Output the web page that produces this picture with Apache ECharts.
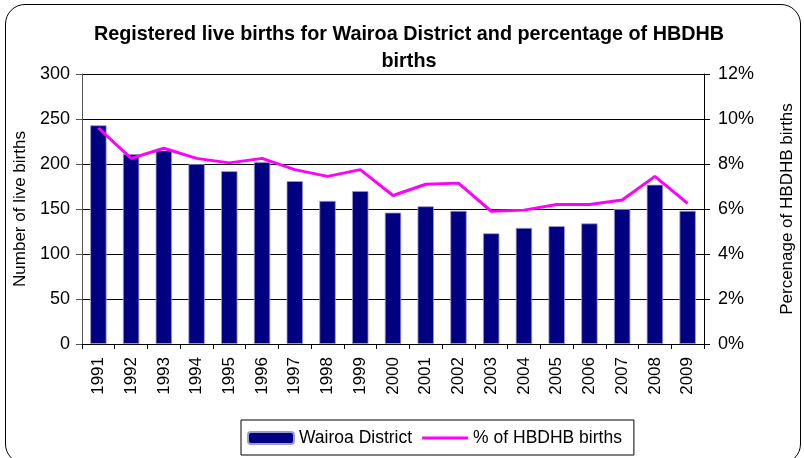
<!DOCTYPE html>
<html><head><meta charset="utf-8">
<script src="https://cdn.jsdelivr.net/npm/echarts@6/dist/echarts.min.js"></script>
<style>
html,body{margin:0;padding:0;background:#fff;overflow:hidden;}
#frame{position:absolute;left:5px;top:4px;width:796px;height:460px;border:1.5px solid #000;border-radius:20px;box-sizing:border-box;}
#c{position:absolute;left:0;top:0;width:804px;height:458px;}
</style></head>
<body>
<div id="frame"></div>
<div id="c"></div>
<script>
var years = ['1991','1992','1993','1994','1995','1996','1997','1998','1999','2000','2001','2002','2003','2004','2005','2006','2007','2008','2009'];
var births = [243,211,215,200,192,202,181,159,170,146,153,148,123,129,131,134,150,177,148];
var pctHBDHB = [9.6,8.25,8.7,8.25,8.05,8.25,7.75,7.45,7.75,6.6,7.1,7.15,5.9,5.95,6.2,6.2,6.4,7.45,6.25];
var leftTicks = [0,50,100,150,200,250,300];
var rightTicks = [0,2,4,6,8,10,12];

var FONT = 'Liberation Sans, Arial, sans-serif';
var chart = echarts.init(document.getElementById('c'));
chart.setOption({
  animation:false,
  title:{text:'Registered live births for Wairoa District and percentage of HBDHB\nbirths',left:404,textAlign:'center',top:16,
    textStyle:{fontFamily:FONT,fontSize:19.8,fontWeight:'bold',color:'#000',lineHeight:27}},
  grid:{left:82,right:90,top:74,bottom:114},
  legend:{left:241,top:420,itemWidth:46,itemHeight:12,itemGap:10,
    borderColor:'#000',borderWidth:1,padding:[9,12,8,6],borderRadius:0,
    textStyle:{fontFamily:FONT,fontSize:17.5,color:'#000'},
    data:[{name:'Wairoa District'},
          {name:'% of HBDHB births',icon:'path://M0,0 M46,12 M0,4.5 H46 V7.5 H0 Z'}]},
  xAxis:{type:'category',data:years,
    axisLine:{lineStyle:{color:'#000'}},
    axisTick:{show:true,alignWithLabel:false,length:5,lineStyle:{color:'#000'}},
    axisLabel:{rotate:90,fontFamily:FONT,fontSize:17,color:'#000',margin:13}},
  yAxis:[
    {type:'value',min:0,max:300,interval:50,
      name:'Number of live births',nameLocation:'middle',nameGap:53,nameRotate:90,
      nameTextStyle:{fontFamily:FONT,fontSize:17,color:'#000'},
      axisLine:{show:true,lineStyle:{color:'#555'}},
      axisTick:{show:true,length:6,lineStyle:{color:'#555'}},
      axisLabel:{fontFamily:FONT,fontSize:18,color:'#000',margin:12,
        formatter:function(v){return leftTicks.indexOf(v)>=0?String(v):'';}},
      splitLine:{show:true,lineStyle:{color:'#000',width:1}}},
    {type:'value',min:0,max:12,interval:2,position:'right',
      name:'Percenage of HBDHB births',nameLocation:'middle',nameGap:75,nameRotate:90,
      nameTextStyle:{fontFamily:FONT,fontSize:17,color:'#000'},
      axisLine:{show:true,lineStyle:{color:'#000'}},
      axisTick:{show:true,length:6,lineStyle:{color:'#000'}},
      axisLabel:{fontFamily:FONT,fontSize:18,color:'#000',margin:14,
        formatter:function(v){return rightTicks.indexOf(v)>=0?v+'%':'';}},
      splitLine:{show:false}}
  ],
  series:[
    {name:'Wairoa District',type:'bar',data:births,barWidth:'50%',
      itemStyle:{color:'#000080',borderColor:'#9c9cd0',borderWidth:0.8}},
    {name:'% of HBDHB births',type:'line',yAxisIndex:1,data:pctHBDHB,symbol:'none',
      lineStyle:{color:'#ff00ff',width:3},itemStyle:{color:'#ff00ff'}}
  ]
});
</script>
</body></html>
